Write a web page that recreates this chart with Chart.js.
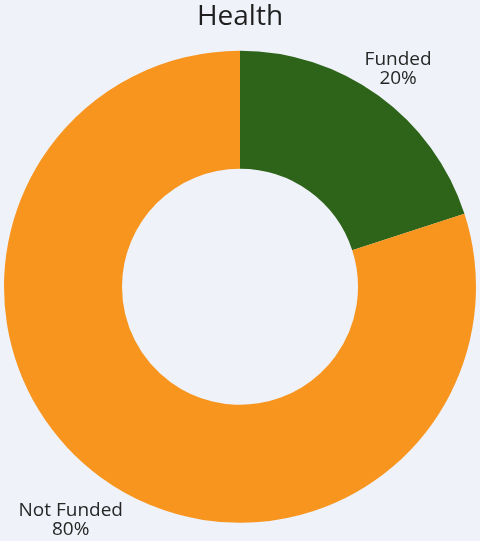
<!DOCTYPE html>
<html>
<head>
<meta charset="utf-8">
<script src="https://cdn.jsdelivr.net/npm/chart.js@4"></script>
<style>
  html, body { margin: 0; padding: 0; background: #eff2f9; }
  #wrap { width: 480px; height: 541px; }
</style>
</head>
<body>
<div id="wrap"><canvas id="healthChart"></canvas></div>
<script>
const categories = ['Funded', 'Not Funded'];
const shares = [20, 80];
const sliceColors = ['#2e6419', '#f7951f'];

// draws "Name\nNN%" outside each slice, along its mid angle
const outsideLabels = {
  id: 'outsideLabels',
  afterDatasetsDraw(chart, args, opts) {
    const ctx = chart.ctx;
    const meta = chart.getDatasetMeta(0);
    ctx.save();
    ctx.font = opts.font;
    ctx.fillStyle = opts.color;
    ctx.textAlign = 'center';
    ctx.textBaseline = 'middle';
    meta.data.forEach((arc, i) => {
      const mid = (arc.startAngle + arc.endAngle) / 2;
      const r = arc.outerRadius + opts.offsets[i];
      const x = arc.x + Math.cos(mid) * r;
      const y = arc.y + Math.sin(mid) * r;
      ctx.fillText(categories[i], x, y - opts.lineGap / 2);
      ctx.fillText(shares[i] + '%', x, y + opts.lineGap / 2);
    });
    ctx.restore();
  }
};

new Chart(document.getElementById('healthChart').getContext('2d'), {
  type: 'doughnut',
  data: {
    labels: categories,
    datasets: [{
      data: shares,
      backgroundColor: sliceColors,
      borderWidth: 0
    }]
  },
  options: {
    responsive: true,
    maintainAspectRatio: false,
    animation: false,
    cutout: '50%',
    layout: { padding: { top: 0, left: 4, right: 4, bottom: 18 } },
    plugins: {
      legend: { display: false },
      tooltip: { enabled: false },
      title: {
        display: true,
        text: 'Health',
        color: '#1f1f1f',
        font: { family: 'Open Sans', size: 28, weight: 'normal' },
        padding: { top: 0, bottom: 17 }
      },
      outsideLabels: {
        font: '19px "Open Sans"',
        color: '#262626',
        lineGap: 19,
        offsets: [33, 52]
      }
    }
  },
  plugins: [outsideLabels]
});
</script>
</body>
</html>
